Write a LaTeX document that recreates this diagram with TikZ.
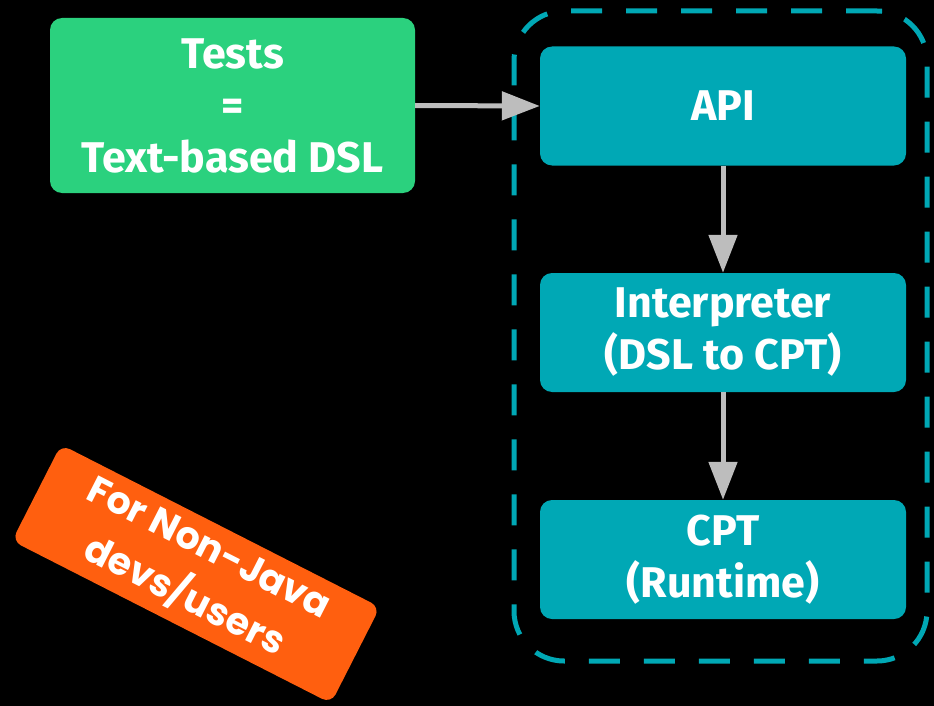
\documentclass[tikz,border=0pt]{standalone}
\usepackage{fontspec}
\setmainfont{Fira Sans}
\newfontfamily\popfont{Poppins}
\usetikzlibrary{arrows.meta}
\definecolor{bggreen}{HTML}{2BD17E}
\definecolor{teal}{HTML}{00A8B5}
\definecolor{arrgray}{HTML}{BDBDBD}
\definecolor{orng}{HTML}{FF5F0F}
\tikzset{
  base/.style={rounded corners=12pt, text=white, font=\bfseries\fontsize{43}{52}\selectfont, align=center, inner sep=0pt},
  greenbox/.style={base, fill=bggreen, minimum width=365pt, minimum height=175pt},
  tealbox/.style={base, fill=teal, minimum width=366pt, minimum height=119pt},
  conn/.style={draw=arrgray, line width=5pt, -{Triangle[length=38pt,width=28pt]}},
  group/.style={draw=teal, line width=5pt, dash pattern=on 31pt off 24pt, rounded corners=50pt, minimum width=413pt, minimum height=650pt, inner sep=0pt},
  tag/.style={fill=orng, rounded corners=10pt, text=white, font=\popfont\bfseries\fontsize{38}{54}\selectfont, align=center, minimum width=358pt, minimum height=108pt, inner sep=0pt, rotate=-27}
}
\begin{document}
\begin{tikzpicture}[x=1pt,y=-1pt]
\fill[black] (0,0) rectangle (934,706);
\useasboundingbox (0,0) rectangle (934,706);
\node[group] (grp) at (720.5,336) {};
\node[greenbox] (tests) at (232.5,105.5) {Tests\\=\\Text-based DSL};
\node[tealbox] (api) at (723,106) {API};
\node[tealbox] (interp) at (723,332.5) {Interpreter\\(DSL to CPT)};
\node[tealbox] (cpt) at (723,559.5) {CPT\\(Runtime)};
\node[tag] (note) at (196,574) {For Non-Java\\devs/users};
\draw[conn] (tests.east) -- (api.west);
\draw[conn] (api.south) -- (interp.north);
\draw[conn] (interp.south) -- (cpt.north);
\end{tikzpicture}
\end{document}
